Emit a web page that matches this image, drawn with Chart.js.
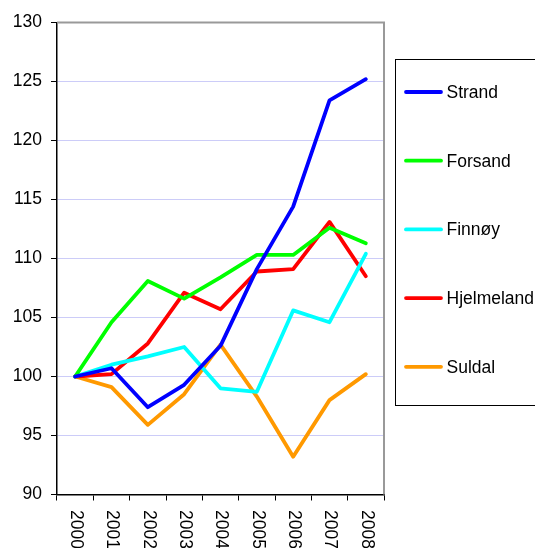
<!DOCTYPE html>
<html>
<head>
<meta charset="utf-8">
<title>Indeks 2000-2008</title>
<script src="https://cdn.jsdelivr.net/npm/chart.js@4.4.1/dist/chart.umd.min.js"></script>
<style>
  html, body { margin: 0; padding: 0; background: #fff; }
  #wrap { width: 535px; height: 548px; position: relative; }
</style>
</head>
<body>
<div id="wrap"><canvas id="indexChart" width="535" height="548"></canvas></div>
<script>
// Data
const years = ['2000', '2001', '2002', '2003', '2004', '2005', '2006', '2007', '2008'];
const strand = [100, 100.7, 97.4, 99.3, 102.6, 109.1, 114.4, 123.4, 125.2];
const forsand = [100, 104.6, 108.1, 106.6, 108.4, 110.3, 110.3, 112.6, 111.3];
const finnoy = [100, 101.0, 101.7, 102.5, 99.0, 98.7, 105.6, 104.6, 110.4];
const hjelmeland = [100, 100.2, 102.8, 107.1, 105.7, 108.9, 109.1, 113.1, 108.5];
const suldal = [100, 99.1, 95.9, 98.5, 102.7, 98.3, 93.2, 98.0, 100.2];
const yTicks = [90, 95, 100, 105, 110, 115, 120, 125, 130];

const FONT = "'Liberation Sans', Arial, sans-serif";

function makeSet(label, data, color) {
    return {
        label: label,
        data: data,
        borderColor: color,
        backgroundColor: color,
        borderWidth: 3.8,
        borderCapStyle: 'round',
        borderJoinStyle: 'round',
        pointRadius: 0,
        tension: 0,
        fill: false
    };
}

// grey border on top and right of the plot, like the original
const plotFrame = {
    id: 'plotFrame',
    afterDraw(chart) {
        const a = chart.chartArea;
        const ctx = chart.ctx;
        ctx.save();
        ctx.strokeStyle = '#999999';
        ctx.lineWidth = 2;
        ctx.beginPath();
        ctx.moveTo(a.left, a.top);
        ctx.lineTo(a.right, a.top);
        ctx.lineTo(a.right, a.bottom);
        ctx.stroke();
        ctx.restore();
    }
};

// year labels turned 90 degrees clockwise
const yearLabels = {
    id: 'yearLabels',
    afterDraw(chart) {
        const xs = chart.scales.x;
        const ctx = chart.ctx;
        ctx.save();
        ctx.fillStyle = '#000';
        ctx.font = '17.5px ' + FONT;
        ctx.textAlign = 'left';
        ctx.textBaseline = 'middle';
        chart.data.labels.forEach((lab, i) => {
            const x = xs.getPixelForValue(i);
            ctx.save();
            ctx.translate(x + 0.5, xs.top + 15.5);
            ctx.rotate(Math.PI / 2);
            ctx.fillText(lab, 0, 0);
            ctx.restore();
        });
        ctx.restore();
    }
};

// boxed legend at the right hand side
const boxLegend = {
    id: 'boxLegend',
    afterDraw(chart) {
        const ctx = chart.ctx;
        ctx.save();
        ctx.strokeStyle = '#000';
        ctx.lineWidth = 1;
        ctx.strokeRect(395.5, 59.5, 150, 346);
        ctx.font = '17.5px ' + FONT;
        ctx.textBaseline = 'middle';
        ctx.textAlign = 'left';
        chart.data.datasets.forEach((ds, i) => {
            const y = 92 + i * 68.7;
            ctx.strokeStyle = ds.borderColor;
            ctx.lineWidth = 3.8;
            ctx.lineCap = 'round';
            ctx.beginPath();
            ctx.moveTo(406, y);
            ctx.lineTo(441, y);
            ctx.stroke();
            ctx.fillStyle = '#000';
            ctx.fillText(ds.label, 446.5, y + 1);
        });
        ctx.restore();
    }
};

function initializeChart() {
    const ctx = document.getElementById('indexChart').getContext('2d');
    new Chart(ctx, {
        type: 'line',
        data: {
            labels: years,
            datasets: [
                makeSet('Strand', strand, '#0000ff'),
                makeSet('Forsand', forsand, '#00ff00'),
                makeSet('Finnøy', finnoy, '#00ffff'),
                makeSet('Hjelmeland', hjelmeland, '#ff0000'),
                makeSet('Suldal', suldal, '#ff9900')
            ]
        },
        options: {
            responsive: false,
            animation: false,
            layout: { padding: { left: 0, top: 22.5, right: 151, bottom: 0 } },
            plugins: {
                legend: { display: false },
                tooltip: { enabled: false }
            },
            scales: {
                x: {
                    offset: true,
                    grid: {
                        offset: true,
                        drawOnChartArea: false,
                        drawTicks: true,
                        tickLength: 6,
                        color: '#000'
                    },
                    border: { color: '#000', width: 1.5 },
                    ticks: { display: false },
                    afterFit(scale) { scale.height = 53.5; }
                },
                y: {
                    min: 90,
                    max: 130,
                    afterBuildTicks(scale) {
                        scale.ticks = yTicks.map(v => ({ value: v }));
                    },
                    grid: {
                        color: '#ccccf8',
                        lineWidth: 1,
                        tickColor: '#000',
                        tickLength: 6
                    },
                    border: { color: '#000', width: 1.5 },
                    ticks: {
                        color: '#000',
                        padding: 9,
                        font: { family: FONT, size: 17.5 }
                    },
                    afterFit(scale) { scale.width = 57; }
                }
            }
        },
        plugins: [plotFrame, yearLabels, boxLegend]
    });
}

document.addEventListener('DOMContentLoaded', () => {
    initializeChart();
});
</script>
</body>
</html>
